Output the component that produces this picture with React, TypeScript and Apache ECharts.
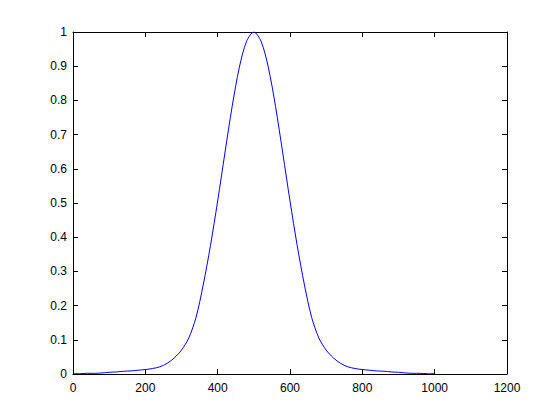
import React, { useEffect, useRef } from "react";
import * as echarts from "echarts";

const xValues: number[] = [
  0, 20, 40, 60, 80, 100, 120, 140, 160, 180, 200, 220, 240, 260, 280, 300, 320, 340, 360, 380,
  400, 420, 440, 460, 480, 500, 520, 540, 560, 580, 600, 620, 640, 660, 680, 700, 720, 740, 760,
  780, 800, 820, 840, 860, 880, 900, 920, 940, 960, 980, 1000,
];
const yValues: number[] = [
  0.001, 0.001, 0.002, 0.002, 0.003, 0.005, 0.006, 0.008, 0.009, 0.011, 0.013, 0.016, 0.021,
  0.031, 0.047, 0.07, 0.105, 0.165, 0.26, 0.375, 0.506, 0.646, 0.782, 0.897, 0.973, 1.0, 0.973,
  0.897, 0.782, 0.646, 0.506, 0.375, 0.26, 0.165, 0.105, 0.07, 0.047, 0.031, 0.021, 0.016,
  0.013, 0.011, 0.009, 0.008, 0.006, 0.005, 0.003, 0.002, 0.002, 0.001, 0.001,
];
const xMin = 0;
const xMax = 1200;
const xStep = 200;
const yMin = 0;
const yMax = 1;
const yStep = 0.1;

const FONT = "'Liberation Sans', Arial, Helvetica, sans-serif";

export default function App() {
  const ref = useRef<HTMLDivElement>(null);
  useEffect(() => {
    if (!ref.current) return;
    const chart = echarts.init(ref.current, undefined, { renderer: "svg" });
    const axisLine = { show: true, onZero: false, lineStyle: { color: "#000", width: 1 } };
    const tick = { show: true, inside: true, length: 5, lineStyle: { color: "#000", width: 1 } };
    const label = { color: "#000", fontSize: 12, fontFamily: FONT };
    chart.setOption({
      animation: false,
      backgroundColor: "#fff",
      grid: { left: 73, right: 53, top: 32, bottom: 46, containLabel: false },
      xAxis: [
        {
          type: "value", min: xMin, max: xMax, interval: xStep, position: "bottom",
          axisLine, axisTick: tick, splitLine: { show: false },
          axisLabel: { ...label, margin: 8, showMinLabel: true, showMaxLabel: true, formatter: (v: number) => String(v) },
        },
        {
          type: "value", min: xMin, max: xMax, interval: xStep, position: "top",
          axisLine, axisTick: tick, splitLine: { show: false }, axisLabel: { show: false },
        },
      ],
      yAxis: [
        {
          type: "value", min: yMin, max: yMax, interval: yStep, position: "left",
          axisLine, axisTick: tick, splitLine: { show: false },
          axisLabel: { ...label, margin: 6, formatter: (v: number) => String(Math.round(v * 10) / 10) },
        },
        {
          type: "value", min: yMin, max: yMax, interval: yStep, position: "right",
          axisLine, axisTick: tick, splitLine: { show: false }, axisLabel: { show: false },
        },
      ],
      series: [
        {
          type: "line",
          xAxisIndex: 0,
          yAxisIndex: 0,
          data: xValues.map((x, i) => [x, yValues[i]]),
          showSymbol: false,
          smooth: 0.3,
          lineStyle: { color: "#0000ff", width: 1 },
          itemStyle: { color: "#0000ff" },
        },
      ],
    });
    return () => chart.dispose();
  }, []);
  return <div ref={ref} style={{ width: 560, height: 420, position: "absolute", left: 0, top: 0 }} />;
}
